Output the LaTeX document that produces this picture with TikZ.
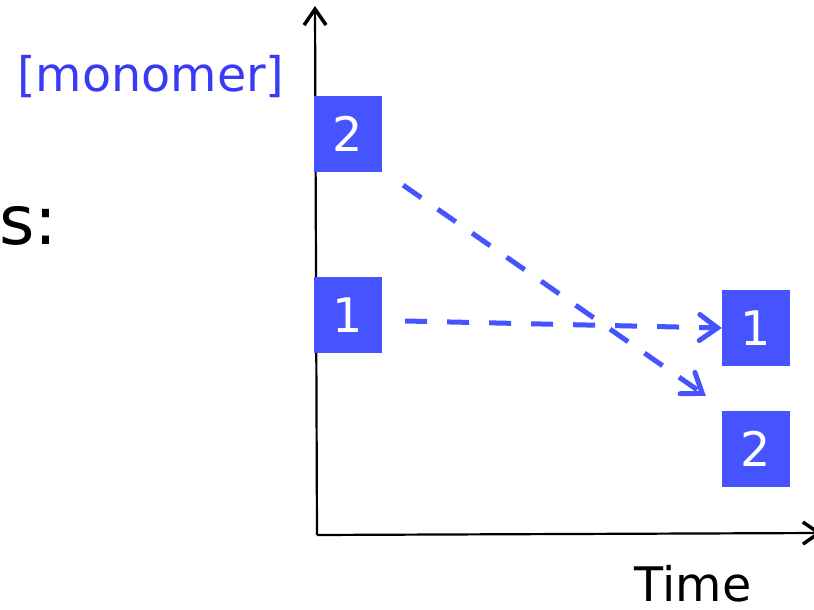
\documentclass[tikz,border=0pt]{standalone}
\usepackage{fontspec}
\setmainfont{DejaVu Sans}
\usetikzlibrary{arrows.meta}
\definecolor{boxblue}{RGB}{69,84,255}
\definecolor{labelblue}{RGB}{58,58,245}

\begin{document}
\begin{tikzpicture}[x=1pt,y=1pt]
	\useasboundingbox (0,0) rectangle (814,610);
	\tikzset{bigtext/.style={font=\fontsize{47.6}{57}\selectfont},
		flow/.style={boxblue,line width=5pt,dash pattern=on 22pt off 20pt,
			-{Straight Barb[length=18pt,width=26pt,line cap=round]}}}
	\coordinate (O) at (317,75);
	\coordinate (ytop) at (315,604);
	\coordinate (xend) at (822,77);
	\draw [line width=2.2pt,-{Straight Barb[length=16pt,width=22pt,line width=3.5pt]}] (O) -- (ytop);
	\draw [line width=2.2pt,-{Straight Barb[length=16pt,width=22pt,line width=3.5pt]}] (O) -- (xend);
	\node [bigtext,text=labelblue,anchor=base] (mono) at (151,518) {[monomer]};
	\node [bigtext,anchor=base] (timelbl) at (693,8) {Time};
	\node [font=\fontsize{68}{80}\selectfont,anchor=base west,inner sep=0] (slbl) at (-1,365) {s:};
	\begin{scope}[every node/.style={bigtext,fill=boxblue,text=white,inner sep=0,
		minimum width=68pt,minimum height=76pt}]
	\node (a2) at (348,476) {2};
	\node (a1) at (348,295) {1};
	\node (b1) at (756,282) {1};
	\node (b2) at (756,161) {2};
	\end{scope}
	\draw [flow] ([shift={(21,-13)}]a2.south east) -- ([shift={(-16,15)}]b2.north west);
	\draw [flow] ([shift={(23,-6)}]a1.east) -- (b1.west);
\end{tikzpicture}
\end{document}
